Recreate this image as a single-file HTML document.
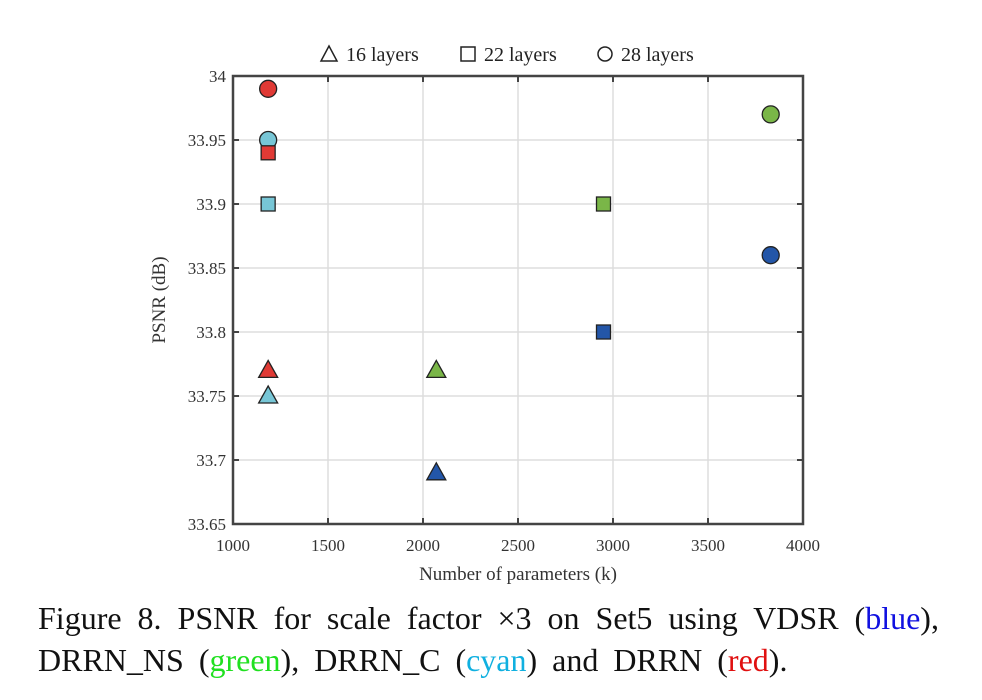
<!DOCTYPE html>
<html><head><meta charset="utf-8"><style>
body{margin:0;background:#fff;width:982px;height:700px;overflow:hidden;font-family:"Liberation Serif",serif}
svg text{font-family:"Liberation Serif",serif}
.cap{position:absolute;left:38px;top:597px;font-size:32px;line-height:42px;color:#111;white-space:nowrap}
</style></head><body>
<svg id="chart" width="982" height="600" style="position:absolute;left:0;top:0"></svg>
<div class="cap"><span style="word-spacing:8px">Figure 8. PSNR for scale factor ×3 on Set5 using VDSR (<span style="color:#1010e0">blue</span>),</span><br><span style="word-spacing:7px">DRRN_NS (<span style="color:#20e020">green</span>), DRRN_C (<span style="color:#10b0e0">cyan</span>) and DRRN (<span style="color:#e01010">red</span>).</span></div>
<script>
const xTicks=[1000,1500,2000,2500,3000,3500,4000];
const yTicks=[33.65,33.7,33.75,33.8,33.85,33.9,33.95,34];
const yTickLabels=["33.65","33.7","33.75","33.8","33.85","33.9","33.95","34"];
const series=["VDSR","DRRN_NS","DRRN_C","DRRN"];
const seriesColors=["#2356a8","#7ab648","#77c6d6","#e03a35"];
const params=[2070,2950,3830, 2070,2950,3830, 1185,1185,1185, 1185,1185,1185];
const psnr=[33.69,33.80,33.86, 33.77,33.90,33.97, 33.75,33.90,33.95, 33.77,33.94,33.99];
const seriesIdx=[0,0,0,1,1,1,2,2,2,3,3,3];
const shapes=["tri","sq","circ","tri","sq","circ","tri","sq","circ","tri","sq","circ"];
const L=233,R=803,T=76,B=524;
const sx=v=>L+(v-1000)/3000*(R-L);
const sy=v=>B-(v-33.65)/0.35*(B-T);
const svg=document.getElementById('chart');
const NS='http://www.w3.org/2000/svg';
function mk(t,a,p){const e=document.createElementNS(NS,t);for(const k in a)e.setAttribute(k,a[k]);(p||svg).appendChild(e);return e;}
xTicks.forEach(v=>{const x=sx(v);
 if(v>1000&&v<4000){const g=mk('line',{x1:x,x2:x,y1:T,y2:B,stroke:'#ddd','stroke-width':1.5});
 
 mk('line',{x1:x,x2:x,y1:T,y2:T+6,stroke:'#444','stroke-width':2});mk('line',{x1:x,x2:x,y1:B,y2:B-6,stroke:'#444','stroke-width':2});}
 const t=mk('text',{x:x,y:B+27,'text-anchor':'middle','font-size':17,fill:'#333'});t.textContent=v;
 });
yTicks.forEach((v,i)=>{const y=sy(v);
 if(i>0&&i<yTicks.length-1){const g=mk('line',{x1:L,x2:R,y1:y,y2:y,stroke:'#ddd','stroke-width':1.5});
 
 mk('line',{x1:L,x2:L+6,y1:y,y2:y,stroke:'#444','stroke-width':2});mk('line',{x1:R,x2:R-6,y1:y,y2:y,stroke:'#444','stroke-width':2});}
 const t=mk('text',{x:L-7,y:y+6,'text-anchor':'end','font-size':17,fill:'#333'});t.textContent=yTickLabels[i];
 });
const box=mk('rect',{x:L,y:T,width:R-L,height:B-T,fill:'none',stroke:'#444','stroke-width':2.5});

params.forEach((p,i)=>{const x=sx(p),y=sy(psnr[i]);const c=seriesColors[seriesIdx[i]];let e;
 const st={fill:c,stroke:'#222','stroke-width':1.3};
 if(shapes[i]=='circ')e=mk('circle',Object.assign({cx:x,cy:y,r:8.5},st));
 else if(shapes[i]=='sq')e=mk('rect',Object.assign({x:x-7,y:y-7,width:14,height:14},st));
 else e=mk('polygon',Object.assign({points:`${x},${y-10} ${x+9.5},${y+7} ${x-9.5},${y+7}`},st));
 
 });
let t=mk('text',{x:(L+R)/2,y:580,'text-anchor':'middle','font-size':19,fill:'#333'});t.textContent='Number of parameters (k)';

t=mk('text',{x:0,y:0,'text-anchor':'middle','font-size':19,fill:'#333',transform:`translate(165,${(T+B)/2}) rotate(-90)`});t.textContent='PSNR (dB)';

const lg=mk('g',{});
mk('polygon',{points:'329,46 337,61 321,61',fill:'none',stroke:'#222','stroke-width':1.5},lg);
mk('rect',{x:461,y:47,width:14,height:14,fill:'none',stroke:'#222','stroke-width':1.5},lg);
mk('circle',{cx:605,cy:54,r:7,fill:'none',stroke:'#222','stroke-width':1.5},lg);
[['16 layers',346],['22 layers',484],['28 layers',621]].forEach(d=>{const e=mk('text',{x:d[1],y:61,'font-size':20,fill:'#222'},lg);e.textContent=d[0];
 });
</script>
</body></html>
